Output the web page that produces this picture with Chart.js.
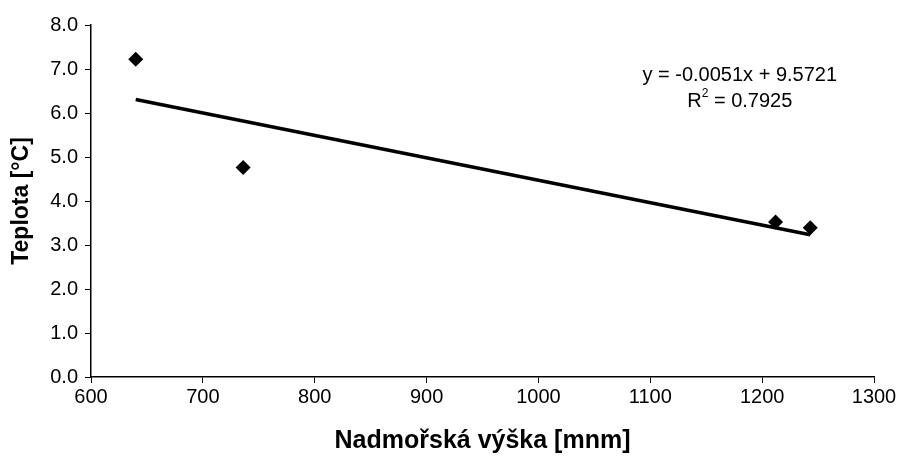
<!DOCTYPE html>
<html>
<head>
<meta charset="utf-8">
<script src="https://cdn.jsdelivr.net/npm/chart.js@4/dist/chart.umd.min.js"></script>
<style>
  html, body { margin: 0; padding: 0; background: #fff; }
  #wrap { width: 900px; height: 456px; }
</style>
</head>
<body>
<div id="wrap"><canvas id="graf" width="900" height="456"></canvas></div>
<script>
// dati
var vyska = [640, 736, 1212, 1243];
var teplota = [7.22, 4.76, 3.52, 3.39];
// retta di regressione (dal testo del grafico)
var sklon = -0.0051;
var posun = 9.5721;
var rovnice = ['y = -0.0051x + 9.5721', 'R', '2', ' = 0.7925'];

var font = "'Liberation Sans', Arial, sans-serif";

// punti della retta agli estremi dei dati
var xMin = Math.min.apply(null, vyska);
var xMax = Math.max.apply(null, vyska);
var trend = [
  { x: xMin, y: sklon * xMin + posun },
  { x: xMax, y: sklon * xMax + posun }
];

var body = [];
for (var i = 0; i < vyska.length; i++) {
  body.push({ x: vyska[i], y: teplota[i] });
}

// plugin per scrivere l'equazione
var textPlugin = {
  id: 'rovnice',
  afterDatasetsDraw: function(chart) {
    var ctx = chart.ctx;
    var sx = chart.scales.x;
    var sy = chart.scales.y;
    var cx = sx.getPixelForValue(1180);
    ctx.save();
    ctx.fillStyle = '#000';
    ctx.font = '20px ' + font;
    ctx.textAlign = 'center';
    ctx.textBaseline = 'middle';
    ctx.fillText(rovnice[0], cx, sy.getPixelForValue(6.86));
    // R^2 con esponente
    var y2 = sy.getPixelForValue(6.27);
    var wa = ctx.measureText(rovnice[1]).width;
    ctx.font = '12px ' + font;
    var w2 = ctx.measureText(rovnice[2]).width;
    ctx.font = '20px ' + font;
    var wb = ctx.measureText(rovnice[3]).width;
    var start = cx - (wa + w2 + wb) / 2;
    ctx.textAlign = 'left';
    ctx.fillText(rovnice[1], start, y2);
    ctx.font = '12px ' + font;
    ctx.fillText(rovnice[2], start + wa, y2 - 7);
    ctx.font = '20px ' + font;
    ctx.fillText(rovnice[3], start + wa + w2, y2);
    ctx.restore();
  }
};

var graf = new Chart(document.getElementById('graf'), {
  type: 'scatter',
  data: {
    datasets: [
      {
        data: body,
        pointStyle: 'rectRot',
        pointRadius: 7.5,
        pointHoverRadius: 7.5,
        backgroundColor: '#000',
        borderColor: '#000',
        borderWidth: 0
      },
      {
        data: trend,
        showLine: true,
        pointRadius: 0,
        borderColor: '#000',
        borderWidth: 3.5,
        fill: false
      }
    ]
  },
  options: {
    responsive: false,
    animation: false,
    layout: { padding: { top: 25, right: 26, left: 0, bottom: 0 } },
    plugins: {
      legend: { display: false },
      tooltip: { enabled: false }
    },
    scales: {
      x: {
        type: 'linear',
        min: 600,
        max: 1300,
        afterFit: function(scale) { scale.height = 79; },
        ticks: {
          stepSize: 100,
          color: '#000',
          font: { family: font, size: 20 },
          padding: 2,
          callback: function(v) { return String(v); }
        },
        grid: { drawOnChartArea: false, drawTicks: true, tickLength: 6, color: '#000' },
        border: { color: '#000', width: 1.5 },
        title: {
          display: true,
          text: 'Nadmořská výška [mnm]',
          color: '#000',
          font: { family: font, size: 25, weight: 'bold' },
          padding: { top: 0, bottom: 0 }
        }
      },
      y: {
        min: 0,
        max: 8,
        afterFit: function(scale) { scale.width = 91; },
        ticks: {
          stepSize: 1,
          color: '#000',
          font: { family: font, size: 20 },
          padding: 7,
          callback: function(v) { return v.toFixed(1); }
        },
        grid: { drawOnChartArea: false, drawTicks: true, tickLength: 6, color: '#000' },
        border: { color: '#000', width: 1.5 },
        title: {
          display: true,
          text: 'Teplota [°C]',
          color: '#000',
          font: { family: font, size: 23, weight: 'bold' },
          padding: { top: 8, bottom: 0 }
        }
      }
    }
  },
  plugins: [textPlugin]
});
</script>
</body>
</html>
